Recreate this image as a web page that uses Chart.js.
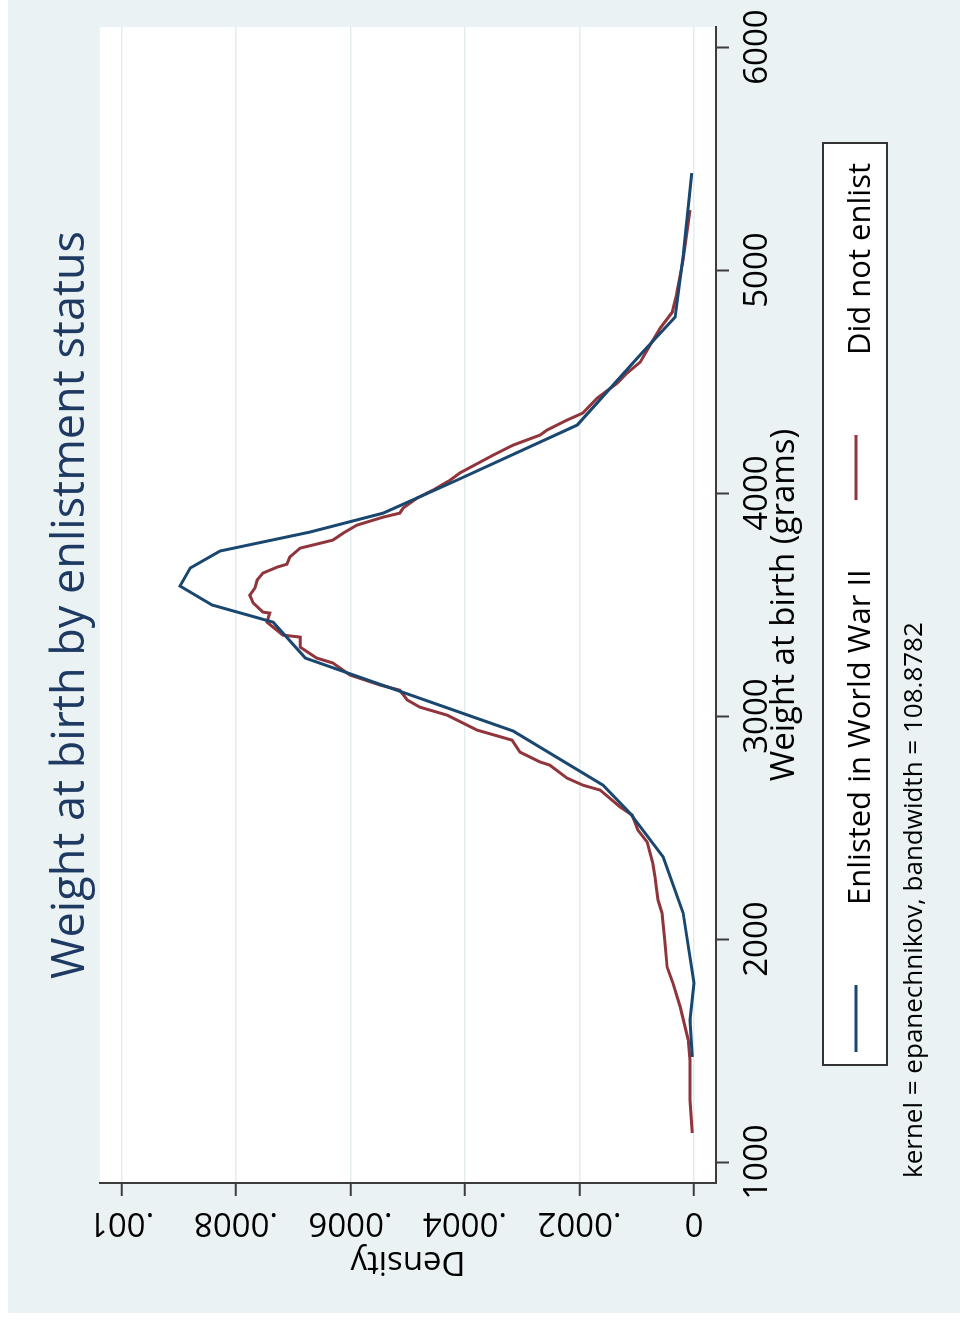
<!DOCTYPE html>
<html>
<head>
<meta charset="utf-8">
<title>Weight at birth by enlistment status</title>
<script src="https://cdn.jsdelivr.net/npm/chart.js@4.4.1/dist/chart.umd.min.js"></script>
<style>
  html, body { margin: 0; padding: 0; background: #ffffff; width: 960px; height: 1322px; overflow: hidden; }
  /* the Stata graph is drawn landscape and then turned a quarter turn to the left */
  #wrap { position: absolute; left: 0; top: 0; width: 1322px; height: 960px;
          transform-origin: 0 0; transform: translate(0, 1322px) rotate(-90deg); }
</style>
</head>
<body>
<div id="wrap"><canvas id="kdChart" width="1322" height="960"></canvas></div>
<script>
const weightTicks = [1000, 2000, 3000, 4000, 5000, 6000];
const densityTicks = [0, 0.0002, 0.0004, 0.0006, 0.0008, 0.001];
const densityTickLabels = ['0', '.0002', '.0004', '.0006', '.0008', '.001'];
const seriesNames = ['Enlisted in World War II', 'Did not enlist'];

// kernel density, enlisted
const enlistedWeight = [1471, 1637, 1803, 2117, 2368, 2565, 2690, 2933, 3260, 3421, 3498, 3583, 3664, 3740,
  3825, 3910, 4058, 4305, 4628, 4789, 5067, 5435];
const enlistedDensity = [0.000003, 0.000007, 0.000000, 0.000019, 0.000054, 0.000112, 0.000159, 0.000316,
  0.000679, 0.000735, 0.000842, 0.000898, 0.000880, 0.000828, 0.000671, 0.000543, 0.000414, 0.000204,
  0.000091, 0.000033, 0.000019, 0.000004];

// kernel density, did not enlist
const notEnlistedWeight = [1130, 1278, 1457, 1547, 1695, 1803, 1874, 1995, 2117, 2175, 2278, 2341, 2435, 2489,
  2556, 2592, 2668, 2690, 2722, 2780, 2794, 2838, 2892, 2937, 3004, 3040, 3072, 3116, 3139, 3184, 3238, 3260,
  3309, 3354, 3363, 3421, 3462, 3466, 3507, 3542, 3574, 3610, 3641, 3668, 3681, 3713, 3753, 3789, 3820, 3856,
  3892, 3910, 3933, 3977, 4013, 4058, 4090, 4170, 4215, 4260, 4282, 4327, 4359, 4426, 4493, 4538, 4587, 4641,
  4740, 4811, 4897, 5045, 5269];
const notEnlistedDensity = [0.000003, 0.000007, 0.000007, 0.000010, 0.000024, 0.000037, 0.000047, 0.000051,
  0.000056, 0.000063, 0.000068, 0.000072, 0.000082, 0.000098, 0.000108, 0.000129, 0.000164, 0.000194,
  0.000222, 0.000252, 0.000269, 0.000304, 0.000318, 0.000379, 0.000431, 0.000479, 0.000501, 0.000514,
  0.000548, 0.000601, 0.000631, 0.000659, 0.000688, 0.000688, 0.000718, 0.000746, 0.000741, 0.000753,
  0.000770, 0.000776, 0.000767, 0.000763, 0.000753, 0.000728, 0.000711, 0.000706, 0.000688, 0.000631,
  0.000613, 0.000589, 0.000543, 0.000514, 0.000508, 0.000484, 0.000456, 0.000426, 0.000409, 0.000351,
  0.000316, 0.000269, 0.000257, 0.000222, 0.000194, 0.000169, 0.000134, 0.000117, 0.000094, 0.000082,
  0.000059, 0.000038, 0.000030, 0.000019, 0.000007];

const titleText = 'Weight at birth by enlistment status';
const xTitle = 'Weight at birth (grams)';
const yTitle = 'Density';
const noteText = 'kernel = epanechnikov, bandwidth = 108.8782';

const FONT = '"Open Sans", "Noto Sans", sans-serif';
const BLUE = '#1a476f';
const RED = '#90353b';
const AXIS = '#3c3c3c';

function toPoints(xs, ys) {
  return xs.map((x, i) => ({ x: x, y: ys[i] }));
}

function upText(ctx, text, x, y) {
  ctx.save();
  ctx.translate(x, y);
  ctx.rotate(-Math.PI / 2);
  ctx.fillText(text, 0, 0);
  ctx.restore();
}

const stataLook = {
  id: 'stataLook',
  beforeDraw(chart) {
    const ctx = chart.ctx, a = chart.chartArea;
    ctx.save();
    ctx.fillStyle = '#ffffff';
    ctx.fillRect(0, 0, chart.width, chart.height);
    ctx.fillStyle = '#eaf2f3';
    ctx.fillRect(9, 8, chart.width - 9, chart.height - 8);
    ctx.fillStyle = '#ffffff';
    ctx.fillRect(a.left, a.top, a.right - a.left, a.bottom - a.top);
    ctx.restore();
  },
  afterDraw(chart) {
    const ctx = chart.ctx, a = chart.chartArea;
    const xs = chart.scales.x, ys = chart.scales.y;
    const mid = (a.left + a.right) / 2;
    ctx.save();
    ctx.textBaseline = 'alphabetic';
    ctx.textAlign = 'center';
    ctx.fillStyle = '#000000';

    // axis labels
    ctx.font = '33px ' + FONT;
    weightTicks.forEach(w => ctx.fillText(String(w), xs.getPixelForValue(w), 767));
    ctx.fillText(xTitle, mid, 794);
    densityTicks.forEach((d, i) => upText(ctx, densityTickLabels[i], 109, ys.getPixelForValue(d)));
    upText(ctx, yTitle, 70, (a.top + a.bottom) / 2);

    // title
    ctx.fillStyle = '#1e3a63';
    ctx.font = '45px ' + FONT;
    ctx.fillText(titleText, mid, 84);

    // legend
    ctx.fillStyle = '#ffffff';
    ctx.fillRect(257, 823, 922, 64);
    ctx.strokeStyle = '#333333';
    ctx.lineWidth = 2;
    ctx.strokeRect(257, 823, 922, 64);
    const keys = [[270, 337, 417, BLUE], [822, 887, 967, RED]];
    ctx.font = '31px ' + FONT;
    ctx.textAlign = 'left';
    keys.forEach((k, i) => {
      ctx.strokeStyle = k[3];
      ctx.lineWidth = 3;
      ctx.beginPath();
      ctx.moveTo(k[0], 856);
      ctx.lineTo(k[1], 856);
      ctx.stroke();
      ctx.fillStyle = '#000000';
      ctx.fillText(seriesNames[i], k[2], 870);
    });

    // note
    ctx.font = '26px ' + FONT;
    ctx.fillText(noteText, 144, 922);
    ctx.restore();
  }
};

const ctx = document.getElementById('kdChart').getContext('2d');
new Chart(ctx, {
  type: 'line',
  data: {
    datasets: [{
      label: seriesNames[0],
      data: toPoints(enlistedWeight, enlistedDensity),
      borderColor: BLUE,
      borderWidth: 3,
      pointRadius: 0,
      tension: 0,
      fill: false
    }, {
      label: seriesNames[1],
      data: toPoints(notEnlistedWeight, notEnlistedDensity),
      borderColor: RED,
      borderWidth: 3,
      pointRadius: 0,
      tension: 0,
      fill: false
    }]
  },
  options: {
    responsive: false,
    animation: false,
    devicePixelRatio: 1,
    layout: { padding: { left: 0, right: 27, top: 100, bottom: 0 } },
    plugins: {
      legend: { display: false },
      title: { display: false },
      tooltip: { enabled: false }
    },
    scales: {
      x: {
        type: 'linear',
        position: 'bottom',
        min: 906,
        max: 6090,
        afterBuildTicks: axis => { axis.ticks = weightTicks.map(v => ({ value: v })); },
        afterFit: axis => { axis.height = 244; },
        ticks: { display: false },
        grid: { drawOnChartArea: false, drawTicks: true, tickLength: 13, tickColor: AXIS, tickWidth: 2 },
        border: { display: true, color: AXIS, width: 2 }
      },
      y: {
        type: 'linear',
        position: 'left',
        min: -0.0000384,
        max: 0.0010376,
        afterBuildTicks: axis => { axis.ticks = densityTicks.map(v => ({ value: v })); },
        afterFit: axis => { axis.width = 139; },
        ticks: { display: false },
        grid: { color: '#e3edf0', lineWidth: 1.5, drawTicks: true, tickLength: 13, tickColor: AXIS, tickWidth: 2 },
        border: { display: true, color: AXIS, width: 2 }
      }
    }
  },
  plugins: [stataLook]
});
</script>
</body>
</html>
